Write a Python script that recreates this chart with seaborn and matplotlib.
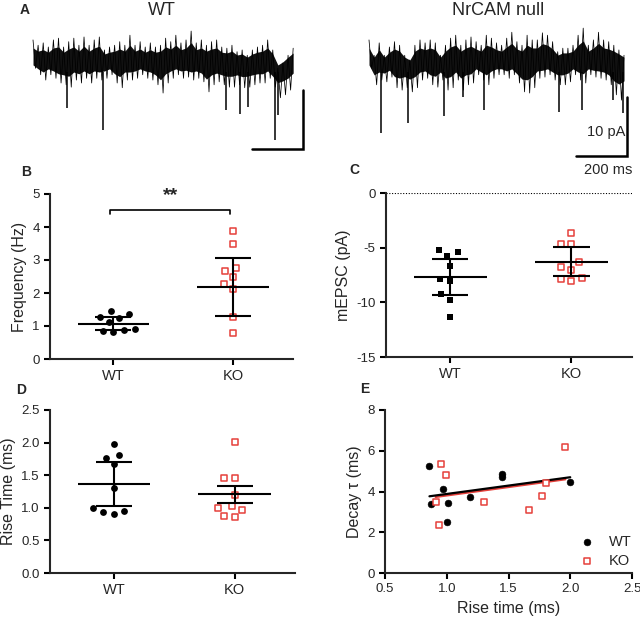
import numpy as np
import pandas as pd
import seaborn as sns
import matplotlib.pyplot as plt

groups = ['WT', 'KO']
red = '#e5403b'

# A: example traces (pA), upper / lower edge of the noise band every 20 ms
wt_top = [3.4, 2.5, 2.9, 2.2, 3.4, 3.7, 2.2, 3.1, 3.7, 2.5, 3.9, 2.5, 3.4, 3.9, 1.7, 2.2,
          2.5, 3.1, 2.5, 4.2, 2.5, 3.1, 2.2, 2.9, 2.2, 2.5, 3.7, 3.1, 4.2, 2.9, 3.4, 4.9,
          2.9, 3.4, 2.5, 3.1, 3.4, 2.2, 2.0, 2.5, 1.4, 1.7, 0.8, 1.7, 2.2, 2.5, 3.4, 1.7,
          -1.4, -0.5, 0.8, 2.0]
wt_bottom = [-1.4, -2.5, -3.4, -2.5, -3.1, -3.9, -4.2, -4.6, -3.4, -3.9, -3.1, -3.9, -3.1,
             -3.4, -3.1, -2.5, -3.9, -4.7, -3.4, -3.4, -3.1, -2.5, -3.1, -3.4, -4.2, -5.6,
             -3.9, -3.1, -2.5, -3.1, -2.9, -3.4, -3.1, -3.7, -5.4, -4.2, -3.7, -4.2, -4.6,
             -4.6, -4.2, -4.7, -4.6, -4.2, -3.9, -3.9, -3.1, -4.6, -6.4, -5.9, -5.1, -3.7]
wt_event_t = [133, 275, 757, 812, 843, 949, 961]
wt_event_amp = [-8.1, -11.9, -8.5, -9.2, -8.0, -13.6, -9.3]

ko_top = [3.4, 0.8, 2.9, 0.8, 2.2, 3.1, 2.5, 0.8, 0.0, 2.5, 3.4, 2.9, 3.4, 2.9, 0.8, 2.5,
          3.7, 4.2, 2.5, 3.4, 3.9, 3.1, 2.5, 4.2, 3.7, 2.9, 2.5, 3.7, 4.7, 3.1, 2.5, 4.2,
          3.4, 3.4, 4.6, 4.2, 3.1, 1.4, 2.0, 2.0, 2.5, 4.2, 5.4, 2.5, 3.4, 4.7, 3.4, 3.1,
          2.5, 1.7, 0.8]
ko_bottom = [-1.4, -4.2, -3.4, -3.7, -2.9, -4.7, -5.1, -4.7, -5.4, -4.7, -3.4, -3.1, -4.2,
             -4.6, -3.4, -5.1, -4.7, -3.4, -5.1, -4.2, -3.9, -2.5, -3.4, -4.2, -3.1, -2.5,
             -2.5, -3.1, -2.5, -3.9, -5.4, -5.6, -4.7, -3.1, -2.9, -2.5, -3.4, -4.2, -4.2,
             -3.7, -2.5, -3.4, -3.9, -2.5, -2.9, -3.1, -3.4, -4.2, -5.9, -6.8, -5.9]
ko_event_t = [47, 153, 294, 369, 451, 745, 835, 957, 996]
ko_event_amp = [-12.4, -10.7, -9.5, -6.3, -8.5, -8.8, -8.5, -6.8, -9.0]

scale_ms = 200
scale_pa = 10

# B: frequency (Hz)
freq_wt = [1.46, 1.36, 1.28, 1.25, 1.12, 0.88, 0.83, 0.86, 0.90]
freq_ko = [3.89, 3.47, 2.77, 2.67, 2.47, 2.27, 2.12, 1.26, 0.78]
freq_mean = [1.07, 2.18]
freq_err = [0.20, 0.87]

# C: mEPSC amplitude (pA)
amp_wt = [-5.21, -5.43, -5.76, -6.68, -7.87, -8.02, -9.27, -9.79, -11.31]
amp_ko = [-3.63, -4.67, -4.67, -6.34, -6.80, -7.04, -7.81, -7.90, -8.02]
amp_mean = [-7.70, -6.27]
amp_err = [1.63, 1.30]

# D: rise time (ms)
rise_wt = [1.98, 1.81, 1.77, 1.67, 1.31, 0.95, 0.90, 0.93, 0.99]
rise_ko = [2.01, 1.45, 1.45, 1.19, 0.97, 1.02, 1.00, 0.86, 0.87]
rise_mean = [1.37, 1.205]
rise_err = [0.34, 0.125]

# E: decay tau vs rise time
e_rise_wt = [0.86, 0.87, 0.97, 1.01, 1.00, 1.19, 1.445, 1.445, 2.00]
e_decay_wt = [5.25, 3.37, 4.10, 3.43, 2.50, 3.74, 4.84, 4.69, 4.46]
e_rise_ko = [0.95, 0.99, 0.91, 0.94, 1.30, 1.67, 1.77, 1.80, 1.96]
e_decay_ko = [5.34, 4.80, 3.50, 2.34, 3.48, 3.09, 3.79, 4.44, 6.19]

sns.set_style('ticks')
plt.rcParams['font.family'] = ['Liberation Sans', 'DejaVu Sans']
plt.rcParams['axes.unicode_minus'] = False
plt.rcParams['axes.linewidth'] = 1.5

fig = plt.figure(figsize=(6.4, 6.21), dpi=100)


def px_axes(l, t, r, b):
    return fig.add_axes([l / 640, 1 - b / 621, (r - l) / 640, (b - t) / 621])


def draw_trace(ax, top, bottom, ev_t, ev_amp, xlim, corner, labels):
    t = np.arange(len(top)) * 20.0
    top = np.asarray(top)
    bottom = np.asarray(bottom)
    # dense core of the noise band
    ax.fill_between(t, 0.6 * bottom, 0.6 * top, color='#111111', lw=0)
    # zigzag between the two edges gives the spiky fringe
    x = np.empty(2 * len(top))
    y = np.empty(2 * len(top))
    x[0::2] = t
    x[1::2] = t + 10
    y[0::2] = top
    y[1::2] = bottom
    sns.lineplot(x=x[:-1], y=y[:-1], ax=ax, color='black', lw=0.55, sort=False,
                 estimator=None)
    ax.vlines(ev_t, -2, ev_amp, color='black', lw=1.1)
    ct, cp = corner
    ax.plot([ct - scale_ms, ct, ct], [cp, cp, cp + scale_pa], color='black', lw=1.8,
            solid_joinstyle='miter')
    if labels:
        ax.text(ct - 5, cp + 4.1, '10 pA', ha='right', va='center', fontsize=10.5)
        ax.text(ct - 75, cp - 2.3, '200 ms', ha='center', va='center', fontsize=10.5)
    ax.set_xlim(*xlim)
    ax.set_ylim(-20.34, 5.93)
    ax.axis('off')


ax_wt = px_axes(30, 25, 310, 180)
draw_trace(ax_wt, wt_top, wt_bottom, wt_event_t, wt_event_amp, (-11.8, 1086), (1059, -15.1), False)
ax_ko = px_axes(365, 25, 640, 180)
draw_trace(ax_ko, ko_top, ko_bottom, ko_event_t, ko_event_amp, (-15.7, 1062.7), (1012, -16.3), True)

fig.text(162 / 640, 1 - 15 / 621, 'WT', ha='center', va='baseline', fontsize=13)
fig.text(498 / 640, 1 - 15 / 621, 'NrCAM null', ha='center', va='baseline', fontsize=13)


def style_axes(ax, ylabel):
    sns.despine(ax=ax)
    ax.tick_params(length=4, width=1.5, labelsize=9.5, color='black')
    ax.tick_params(axis='x', labelsize=10.5)
    ax.set_ylabel(ylabel, fontsize=11.5)
    ax.set_xlabel('')


def swarm(ax, values, group, **kw):
    # lay the points out with a wider swarm, then redraw them at their real size
    df = pd.DataFrame({'group': [group] * len(values), 'value': values})
    n_before = len(ax.collections)
    sns.swarmplot(data=df, x='group', y='value', order=groups, size=7.5, ax=ax)
    added = ax.collections[n_before:]
    fig.canvas.draw()
    for coll in added:
        offs = coll.get_offsets()
        coll.set_visible(False)
        if len(offs):
            ax.scatter(offs[:, 0], offs[:, 1], zorder=3, **kw)


def dot_panel(ax, wt, ko, means, errs, wt_marker):
    swarm(ax, wt, 'WT', marker=wt_marker, color='black', s=24, lw=0)
    swarm(ax, ko, 'KO', marker='s', facecolor='white', edgecolor=red, linewidth=1.1, s=19)
    pos = np.arange(len(groups))
    lo = np.subtract(means, errs)
    hi = np.add(means, errs)
    kw = dict(color='black', lw=1.5, zorder=5)
    ax.hlines(means, pos - 0.3, pos + 0.3, **kw)
    ax.vlines(pos, lo, hi, **kw)
    ax.hlines(hi, pos - 0.15, pos + 0.15, **kw)
    ax.hlines(lo, pos - 0.15, pos + 0.15, **kw)
    ax.set_xlim(-0.53, 1.5)


# B
ax_b = px_axes(50, 194, 293, 359)
ax_b.set_ylim(0, 5)
dot_panel(ax_b, freq_wt, freq_ko, freq_mean, freq_err, 'o')
ax_b.set_ylim(0, 5)
ax_b.set_yticks([0, 1, 2, 3, 4, 5])
style_axes(ax_b, 'Frequency (Hz)')
ax_b.plot([-0.03, -0.03, 0.97, 0.97], [4.39, 4.52, 4.52, 4.39], color='black', lw=1.2,
          clip_on=False)
ax_b.text(0.475, 4.95, '**', ha='center', va='center', fontsize=14, fontweight='bold')

# C
ax_c = px_axes(386, 193, 632, 357)
ax_c.set_ylim(-15, 0)
dot_panel(ax_c, amp_wt, amp_ko, amp_mean, amp_err, 's')
ax_c.axhline(0, color='black', lw=0.8, ls=(0, (1, 1.5)))
ax_c.set_ylim(-15, 0)
ax_c.set_yticks([0, -5, -10, -15])
style_axes(ax_c, 'mEPSC (pA)')

# D
ax_d = px_axes(50, 410, 295, 573)
ax_d.set_ylim(0, 2.5)
dot_panel(ax_d, rise_wt, rise_ko, rise_mean, rise_err, 'o')
ax_d.set_ylim(0, 2.5)
ax_d.set_yticks([0, 0.5, 1.0, 1.5, 2.0, 2.5])
ax_d.set_yticklabels(['0.0', '0.5', '1.0', '1.5', '2.0', '2.5'])
style_axes(ax_d, 'Rise Time (ms)')

# E
ax_e = px_axes(385, 410, 632, 573)
sns.regplot(x=e_rise_ko, y=e_decay_ko, scatter=False, ci=None, color=red,
            line_kws={'lw': 1.6}, ax=ax_e)
sns.regplot(x=e_rise_wt, y=e_decay_wt, scatter=False, ci=None, color='black',
            line_kws={'lw': 1.6}, ax=ax_e)
sns.scatterplot(x=e_rise_wt, y=e_decay_wt, marker='o', color='black', edgecolor='black',
                s=24, label='WT', ax=ax_e, zorder=4)
sns.scatterplot(x=e_rise_ko, y=e_decay_ko, marker='s', color='white', edgecolor=red,
                linewidth=1.1, s=20, label='KO', ax=ax_e, zorder=4)
ax_e.set_xlim(0.5, 2.5)
ax_e.set_ylim(0, 8)
ax_e.set_xticks([0.5, 1.0, 1.5, 2.0, 2.5])
ax_e.set_yticks([0, 2, 4, 6, 8])
style_axes(ax_e, 'Decay \u03c4 (ms)')
ax_e.tick_params(axis='x', labelsize=9.5)
ax_e.set_xlabel('Rise time (ms)', fontsize=11.5)
ax_e.legend(frameon=False, loc='lower right', bbox_to_anchor=(1.04, -0.03), fontsize=10.5,
            handletextpad=0.5, labelspacing=0.3, borderaxespad=0.3)

for x, y, s in [(25, 9.5, 'A'), (26, 172, 'B'), (354, 170, 'C'), (21, 390, 'D'), (365, 389, 'E')]:
    fig.text(x / 640, 1 - y / 621, s, ha='center', va='center', fontsize=10, fontweight='bold')

fig.savefig('out.png', dpi=100)
